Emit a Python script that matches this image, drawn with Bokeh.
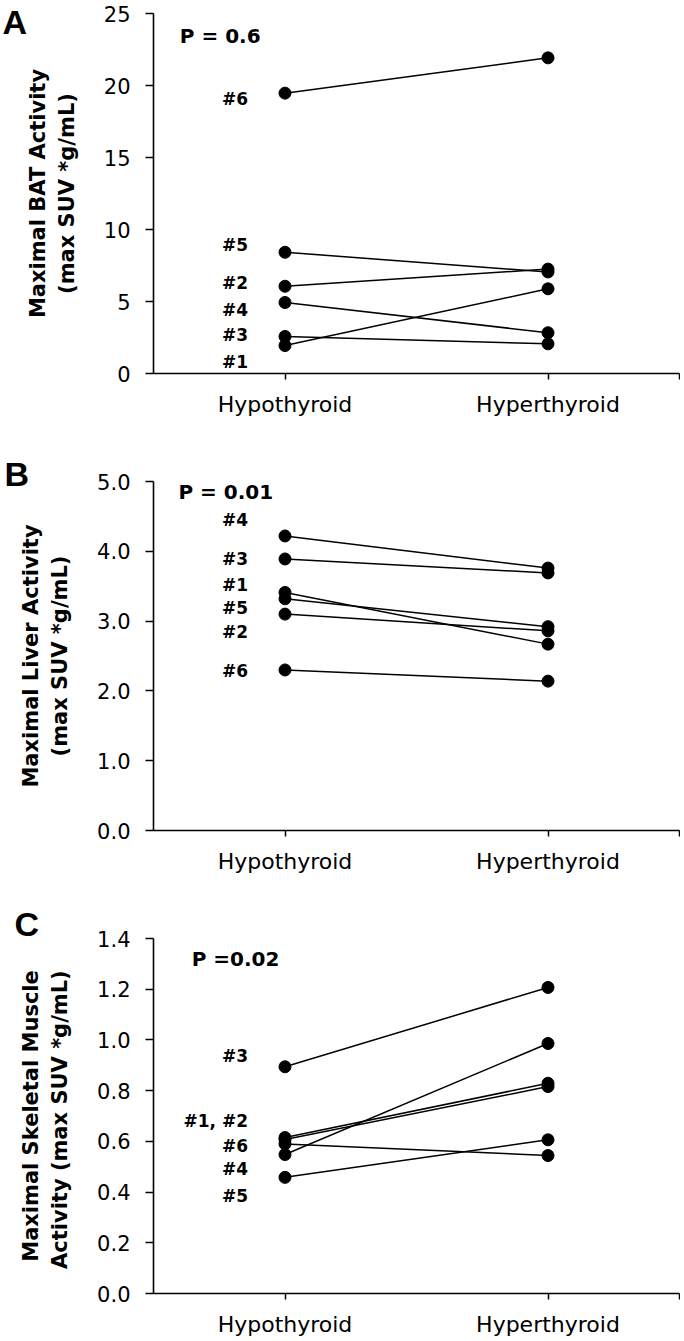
from bokeh.plotting import figure
from bokeh.layouts import column
from bokeh.models import Range1d, FixedTicker, NumeralTickFormatter
from bokeh.core.properties import value
from bokeh.embed import file_html
from bokeh.resources import INLINE

# ---------------- data ----------------
categories = ["Hypothyroid", "Hyperthyroid"]
subjects = ["#1", "#2", "#3", "#4", "#5", "#6"]

bat_hypo = [1.94, 6.06, 2.57, 4.93, 8.42, 19.47]
bat_hyper = [5.88, 7.25, 2.06, 2.83, 7.05, 21.92]
bat_p = "P = 0.6"
bat_ticks = [0, 5, 10, 15, 20, 25]

liver_hypo = [3.41, 3.10, 3.89, 4.22, 3.32, 2.30]
liver_hyper = [2.67, 2.86, 3.69, 3.76, 2.92, 2.14]
liver_p = "P = 0.01"
liver_ticks = [0.0, 1.0, 2.0, 3.0, 4.0, 5.0]

muscle_hypo = [0.615, 0.607, 0.894, 0.548, 0.458, 0.590]
muscle_hyper = [0.829, 0.816, 1.207, 0.986, 0.606, 0.544]
muscle_p = "P =0.02"
muscle_ticks = [0.0, 0.2, 0.4, 0.6, 0.8, 1.0, 1.2, 1.4]

# subject label annotations (text, data-y of label centre)
bat_labels = ["#1", "#2", "#3", "#4", "#5", "#6"]
bat_label_y = [0.78, 6.27, 2.64, 4.42, 8.92, 19.03]
liver_labels = ["#1", "#2", "#3", "#4", "#5", "#6"]
liver_label_y = [3.52, 2.85, 3.89, 4.45, 3.19, 2.29]
muscle_labels = ["#1, #2", "#3", "#4", "#5", "#6"]
muscle_label_y = [0.68, 0.938, 0.491, 0.386, 0.583]

FONT_NAME = "DejaVu Sans"
FONT = value(FONT_NAME)
cat_pos = [i + 0.5 for i in range(len(categories))]


def make_panel(hypo, hyper, ticks, fmt, ylabel, letter, letter_standoff, ptext, p_x, p_y,
               labels, label_y, height, b_top, b_bottom, b_left):
    p = figure(width=680, height=height, output_backend="svg", toolbar_location=None,
               x_range=Range1d(0, len(categories)), y_range=Range1d(ticks[0], ticks[-1]),
               min_border_top=b_top, min_border_bottom=b_bottom,
               min_border_left=b_left, min_border_right=1,
               background_fill_color="white", border_fill_color="white")
    p.outline_line_color = None
    p.grid.visible = False

    # panel letter as the figure title (side-panel annotation, not clipped)
    p.title.text = letter
    p.title.align = "left"
    p.title.vertical_align = "bottom"
    p.title.offset = -(b_left - 2)
    p.title.standoff = letter_standoff
    p.title.text_font = "Liberation Sans"
    p.title.text_font_style = "bold"
    p.title.text_font_size = "34px"
    p.title.text_color = "black"

    # x axis
    xa = p.xaxis[0]
    xa.ticker = FixedTicker(ticks=cat_pos + [float(len(categories))])
    overrides = {pos: c for pos, c in zip(cat_pos, categories)}
    overrides[float(len(categories))] = ""
    xa.major_label_overrides = overrides
    xa.minor_tick_line_color = None
    xa.major_tick_in = 0
    xa.major_tick_out = 6
    xa.major_label_standoff = 12
    xa.major_label_text_font = FONT_NAME
    xa.major_label_text_font_size = "22px"
    xa.major_label_text_color = "black"
    xa.axis_line_width = 1.6
    xa.major_tick_line_width = 1.5

    # y axis
    ya = p.yaxis[0]
    ya.ticker = FixedTicker(ticks=ticks)
    ya.formatter = NumeralTickFormatter(format=fmt)
    ya.minor_tick_line_color = None
    ya.major_tick_in = 0
    ya.major_tick_out = 8
    ya.major_label_standoff = 15
    ya.major_label_text_font = FONT_NAME
    ya.major_label_text_font_size = "21px"
    ya.major_label_text_color = "black"
    ya.axis_line_width = 1.6
    ya.major_tick_line_width = 1.5
    ya.axis_label = ylabel
    ya.axis_label_text_font = FONT_NAME
    ya.axis_label_text_font_style = "bold"
    ya.axis_label_text_font_size = "21px"
    ya.axis_label_text_color = "black"
    ya.axis_label_standoff = 22

    # paired lines and points
    p.segment(x0=[cat_pos[0]] * len(hypo), y0=hypo,
              x1=[cat_pos[1]] * len(hyper), y1=hyper,
              line_color="black", line_width=1.5)
    p.scatter(x=[cat_pos[0]] * len(hypo) + [cat_pos[1]] * len(hyper), y=hypo + hyper,
              size=12, fill_color="black", line_color="black")

    # subject labels
    p.text(x=[cat_pos[0]] * len(labels), y=label_y, text=labels, x_offset=-37,
           text_align="right", text_baseline="middle", text_font=FONT,
           text_font_style="bold", text_font_size="17px", text_color="black")

    # p-value
    p.text(x=[p_x], y=[p_y], text=[ptext], text_align="left", text_baseline="middle",
           text_font=FONT, text_font_style="bold", text_font_size="20px", text_color="black")
    return p


pa = make_panel(bat_hypo, bat_hyper, bat_ticks, "0",
                "Maximal BAT Activity\n(max SUV *g/mL)", "A", -54, bat_p, 0.10, 23.47,
                bat_labels, bat_label_y, 445, 13, 72, 153)
pb = make_panel(liver_hypo, liver_hyper, liver_ticks, "0.0",
                "Maximal Liver Activity\n(max SUV *g/mL)", "B", -23, liver_p, 0.095, 4.848,
                liver_labels, liver_label_y, 445, 36, 60, 151)
pc = make_panel(muscle_hypo, muscle_hyper, muscle_ticks, "0.0",
                "Maximal Skeletal Muscle\nActivity  (max SUV *g/mL)", "C", -9, muscle_p, 0.145, 1.318,
                muscle_labels, muscle_label_y, 451, 48, 48, 141)

layout = column(pa, pb, pc, spacing=0)
open("out.html", "w").write(file_html(layout, INLINE))
